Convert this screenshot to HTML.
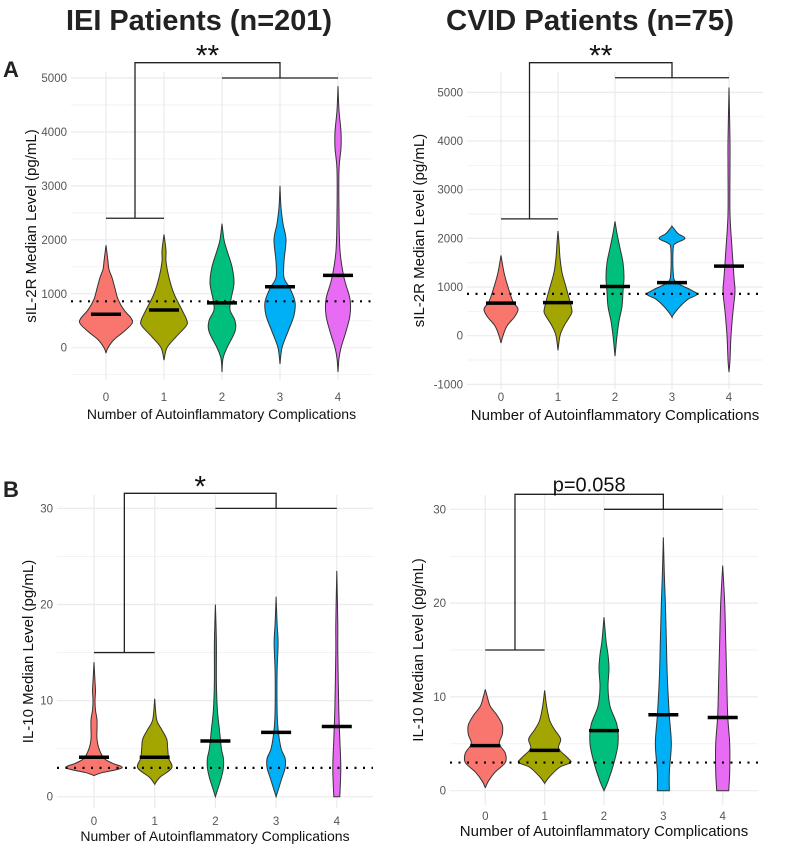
<!DOCTYPE html>
<html><head><meta charset="utf-8">
<style>
html,body{margin:0;padding:0;background:#fff;}
svg{display:block;font-family:"Liberation Sans",sans-serif;}
</style></head>
<body>
<svg id="fig" width="787" height="848" viewBox="0 0 787 848">
<text x="199" y="30" text-anchor="middle" font-size="29" font-weight="bold" fill="#222" textLength="266" lengthAdjust="spacingAndGlyphs">IEI Patients (n=201)</text>
<text x="590" y="30" text-anchor="middle" font-size="29" font-weight="bold" fill="#222" textLength="288" lengthAdjust="spacingAndGlyphs">CVID Patients (n=75)</text>
<text x="3" y="77" font-size="22" font-weight="bold" fill="#222">A</text>
<text x="3" y="497" font-size="22" font-weight="bold" fill="#222">B</text>
</svg>
<script>
const categories = ["0","1","2","3","4"];
const colors = ["#F8766D","#A3A500","#00BF7D","#00B0F6","#E76BF3"];

// IEI sIL-2R violin profiles [value, relative half-width]
const ieiSil2rProfiles = [
 [[-100,0],[0,2],[150,8],[300,18],[450,26],[550,25],[700,18],[900,12],[1100,9],[1300,6],[1450,3],[1600,2],[1900,0]],
 [[-230,0],[0,3],[200,12],[400,22],[500,23],[700,18],[1000,10],[1300,5],[1600,2],[1800,2],[2100,0]],
 [[-450,0],[-200,1],[0,5],[300,13],[500,13],[700,8],[900,9],[1200,12],[1500,10],[1800,5],[2000,2],[2300,0]],
 [[-300,0],[0,2],[300,8],[600,14],[850,15],[1100,10],[1300,4],[1600,4],[2000,6],[2300,3],[2600,1],[3000,0]],
 [[-450,0],[-200,1],[0,3],[300,8],[600,12],[900,12],[1300,6],[1800,2],[2500,1],[3300,1],[3700,3],[4000,3],[4400,1],[4850,0]]
];
const ieiSil2rMedians = [620,700,830,1130,1340];

const cvidSil2rProfiles = [
 [[-150,0],[0,2],[200,6],[400,14],[550,17],[700,12],[1000,7],[1300,3],[1650,0]],
 [[-300,0],[0,2],[200,6],[400,12],[500,14],[700,12],[1000,8],[1300,4],[1600,2],[1900,1],[2150,0]],
 [[-420,0],[-200,1],[0,2],[300,4],[600,7],[900,8],[1200,9],[1500,8],[1800,5],[2100,2],[2350,0]],
 [[380,0],[450,2],[600,8],[750,16],[850,25],[950,18],[1100,4],[1300,1.2],[1800,1.2],[1900,4],[2000,13],[2100,6],[2250,0]],
 [[-750,0],[-500,1],[0,2],[500,4],[900,6],[1200,5],[1800,3],[2500,1],[3500,1],[4000,1],[5100,0]]
];
const cvidSil2rMedians = [670,680,1010,1090,1430];

const ieiIl10Profiles = [
 [[2.2,0],[2.5,8],[3,28],[3.5,18],[4,10],[5,5],[6,3],[7,3],[8,3],[9,1.5],[10,1],[11,1.5],[12,1],[14,0]],
 [[1.3,0],[2,5],[3,17],[4,14],[5,13],[6,12],[7,7],[8,2],[10.2,0]],
 [[0,0],[1,3],[2,6],[3,8],[4,8],[5,6],[7,4],[9,2],[12,1],[16,1],[20,0]],
 [[0,0],[1,3],[2,6],[3,9],[4,9],[5,5],[7,2],[9,1],[13,1],[16,2],[18,1],[20.8,0]],
 [[0,3],[3,4],[6,3],[9,2],[15,1],[18,1],[23.5,0]]
];
const ieiIl10Medians = [4.1,4.1,5.8,6.7,7.3];

const cvidIl10Profiles = [
 [[0.3,0],[1,3],[2,10],[3,20],[4,20],[5,14],[6,17],[7,17],[8,12],[9,5],[10,2],[10.8,0]],
 [[0.8,0],[1.5,5],[2.5,15],[3,26],[3.5,23],[4.5,14],[5.5,16],[6.5,10],[7.5,5],[9,2],[10.7,0]],
 [[0,0],[1,4],[3,10],[5,14],[7,13],[9,6],[11,4],[13,5],[14.5,4],[16,2],[18.5,0]],
 [[0,6],[2,6],[5,8],[8,6],[12,4],[16,3],[20,2],[23,1],[27,0]],
 [[0,6],[2,7],[5,7],[8,5],[12,4],[16,3],[20,2],[24,0]]
];
const cvidIl10Medians = [4.8,4.3,6.4,8.1,7.8];

const sil2rTicksLeft = [0,1000,2000,3000,4000,5000];
const sil2rTicksRight = [-1000,0,1000,2000,3000,4000,5000];
const il10Ticks = [0,10,20,30];
const sil2rRef = 860;
const il10Ref = 3.0;
const sil2rSigLabel = "**";
const ieiIl10SigLabel = "*";
const cvidIl10SigLabel = "p=0.058";
const sil2rBracketLow = 2400;
const ieiSil2rBracketHigh = 5000;
const cvidSil2rBracketHigh = 5300;
const il10BracketLow = 15;
const il10BracketHigh = 30;

const NS = "http://www.w3.org/2000/svg";
const svg = document.getElementById("fig");
function mk(tag, attrs, parent){
  const e = document.createElementNS(NS, tag);
  for (const k in attrs) e.setAttribute(k, attrs[k]);
  (parent||svg).appendChild(e);
  return e;
}

function smooth(pts){
  let d = "";
  for (let i=0;i<pts.length-1;i++){
    const p0=pts[Math.max(0,i-1)], p1=pts[i], p2=pts[i+1], p3=pts[Math.min(pts.length-1,i+2)];
    const c1=[p1[0]+(p2[0]-p0[0])/6, p1[1]+(p2[1]-p0[1])/6];
    const c2=[p2[0]-(p3[0]-p1[0])/6, p2[1]-(p3[1]-p1[1])/6];
    d += " C"+c1[0].toFixed(2)+","+c1[1].toFixed(2)+" "+c2[0].toFixed(2)+","+c2[1].toFixed(2)+" "+p2[0].toFixed(2)+","+p2[1].toFixed(2);
  }
  return d;
}

function panel(cfg){
  const g = mk("g", {});
  
  
  const y = v => cfg.y0 - v * cfg.ppu;
  const x = i => cfg.x0 + i * cfg.dx;
  cfg.minor.forEach(v=>{
    const l = mk("line",{x1:cfg.left,x2:cfg.right,y1:y(v),y2:y(v),stroke:"#f2f2f2","stroke-width":1},g);
    
    
  });
  cfg.ticks.forEach(v=>{
    const l = mk("line",{x1:cfg.left,x2:cfg.right,y1:y(v),y2:y(v),stroke:"#ebebeb","stroke-width":1.2},g);
    
    
    const t = mk("text",{x:cfg.left-4,y:y(v)+4,"text-anchor":"end","font-size":11.5,fill:"#555"},g);
    t.textContent = v;
    
    
  });
  categories.forEach((c,i)=>{
    const l = mk("line",{x1:x(i),x2:x(i),y1:cfg.top,y2:cfg.bottom,stroke:"#ebebeb","stroke-width":1.2},g);
    
    
    const t = mk("text",{x:x(i),y:cfg.tickY,"text-anchor":"middle","font-size":11.5,fill:"#555"},g);
    t.textContent = c;
    
    
  });
  cfg.profiles.forEach((prof,i)=>{
    const cx = x(i);
    const right = prof.map(p=>[cx + p[1]*cfg.wscale, y(p[0])]);
    const left = prof.slice().reverse().map(p=>[cx - p[1]*cfg.wscale, y(p[0])]);
    let d = "M"+right[0][0]+","+right[0][1] + smooth(right) + " L"+left[0][0]+","+left[0][1] + smooth(left) + " Z";
    const p = mk("path",{d:d,fill:colors[i],stroke:"#333","stroke-width":1},g);
    
    
  });
  const ref = mk("line",{x1:cfg.left,x2:cfg.right,y1:y(cfg.ref),y2:y(cfg.ref),stroke:"#000","stroke-width":2.2,"stroke-dasharray":"2,6.5"},g);
  
  
  cfg.medians.forEach((m,i)=>{
    const l = mk("line",{x1:x(i)-15,x2:x(i)+15,y1:y(m),y2:y(m),stroke:"#000","stroke-width":3.5},g);
    
    
  });
  const bx0 = (x(0)+x(1))/2, bx1 = x(3);
  const topY = cfg.bracketTop;
  const bd = "M"+x(0)+","+y(cfg.bLow)+" L"+x(1)+","+y(cfg.bLow)+
             " M"+bx0+","+y(cfg.bLow)+" L"+bx0+","+topY+" L"+bx1+","+topY+" L"+bx1+","+y(cfg.bHigh)+
             " M"+x(2)+","+y(cfg.bHigh)+" L"+x(4)+","+y(cfg.bHigh);
  const br = mk("path",{d:bd,fill:"none",stroke:"#222","stroke-width":1.3},g);
  
  
  const isStar = cfg.sig.indexOf("*")>=0;
  const sl = mk("text",{x:(bx0+bx1)/2,y:isStar?topY+3:topY-3,"text-anchor":"middle","font-size":isStar?30:20,fill:"#111"},g);
  sl.textContent = cfg.sig;
  
  
  const xt = mk("text",{x:(cfg.left+cfg.right)/2,y:cfg.titleY,"text-anchor":"middle","font-size":cfg.titleSize,fill:"#111"},g);
  xt.textContent = "Number of Autoinflammatory Complications";
  
  
  const cy = (cfg.top+cfg.bottom)/2;
  const yt = mk("text",{x:cfg.yTitleX,y:cy,"text-anchor":"middle","font-size":15,fill:"#111",transform:"rotate(-90 "+cfg.yTitleX+" "+cy+")"},g);
  yt.textContent = cfg.yTitle;
  
  
}

function range(a,b,s){const r=[];for(let v=a;v<=b+1e-9;v+=s)r.push(v);return r;}

panel({name:"iei-sil2r-panel",x0:106,dx:58,y0:347.7,ppu:0.05394,left:71,right:372,top:72,bottom:380,
  ticks:sil2rTicksLeft,minor:range(-500,4500,1000),profiles:ieiSil2rProfiles,medians:ieiSil2rMedians,wscale:1,
  ref:sil2rRef,bLow:sil2rBracketLow,bHigh:ieiSil2rBracketHigh,bracketTop:62.7,sig:sil2rSigLabel,
  tickY:401,titleY:419,titleSize:14,yTitleX:36,yTitle:"sIL-2R Median Level (pg/mL)"});
panel({name:"cvid-sil2r-panel",x0:501,dx:57,y0:335.7,ppu:0.04867,left:467,right:763,top:72,bottom:389,
  ticks:sil2rTicksRight,minor:range(-500,4500,1000),profiles:cvidSil2rProfiles,medians:cvidSil2rMedians,wscale:1,
  ref:sil2rRef,bLow:sil2rBracketLow,bHigh:cvidSil2rBracketHigh,bracketTop:62.7,sig:sil2rSigLabel,
  tickY:401,titleY:420,titleSize:15,yTitleX:424,yTitle:"sIL-2R Median Level (pg/mL)"});
panel({name:"iei-il10-panel",x0:94,dx:60.7,y0:796.7,ppu:9.61,left:57,right:373,top:495,bottom:808,
  ticks:il10Ticks,minor:[5,15,25],profiles:ieiIl10Profiles,medians:ieiIl10Medians,wscale:1,
  ref:il10Ref,bLow:il10BracketLow,bHigh:il10BracketHigh,bracketTop:493.3,sig:ieiIl10SigLabel,
  tickY:825,titleY:841,titleSize:14,yTitleX:33,yTitle:"IL-10 Median Level (pg/mL)"});
panel({name:"cvid-il10-panel",x0:485.3,dx:59.35,y0:790.7,ppu:9.38,left:450,right:758,top:495,bottom:805,
  ticks:il10Ticks,minor:[5,15,25],profiles:cvidIl10Profiles,medians:cvidIl10Medians,wscale:1,
  ref:il10Ref,bLow:il10BracketLow,bHigh:il10BracketHigh,bracketTop:494.3,sig:cvidIl10SigLabel,
  tickY:820,titleY:836,titleSize:15,yTitleX:423,yTitle:"IL-10 Median Level (pg/mL)"});
</script>
</body></html>
